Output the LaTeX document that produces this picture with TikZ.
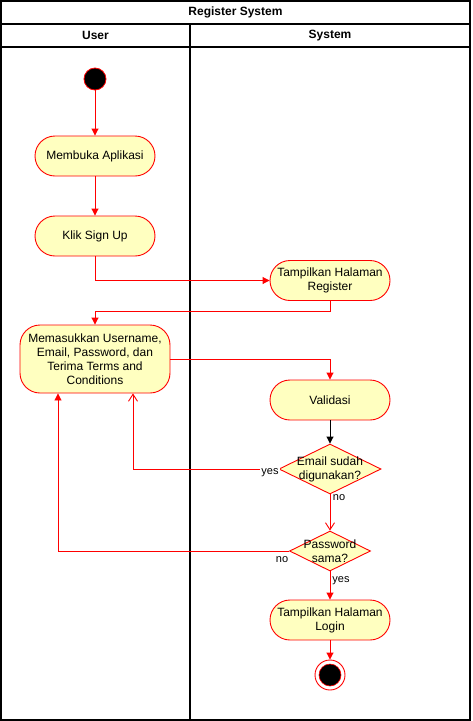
\documentclass[tikz,border=0pt]{standalone}
\usepackage{fontspec}
\setmainfont{Liberation Sans}
\usetikzlibrary{arrows.meta,shapes.geometric}
\definecolor{nodefill}{HTML}{FFFFC0}
\tikzset{
  actbox/.style={draw=red, fill=nodefill, rounded corners=20pt, minimum width=120pt, minimum height=40pt, align=center, line width=0.9pt, inner sep=1pt},
  decis/.style={draw=red, fill=nodefill, diamond, inner sep=0pt, line width=0.9pt},
  flow/.style={draw=red, line width=0.9pt, -{Triangle[length=7pt,width=7pt]}},
  flowblack/.style={draw=black, line width=0.9pt, -{Triangle[length=7pt,width=7pt]}},
  openflow/.style={draw=red, line width=0.9pt, -{Straight Barb[length=7pt,width=9pt]}},
  edgelbl/.style={font=\fontsize{11}{13}\selectfont, inner sep=1pt, fill=white},
  lane/.style={draw=black, line width=1.2pt}
}
\begin{document}
\begin{tikzpicture}[x=1pt,y=-1pt, font=\fontsize{12}{14}\selectfont]
\useasboundingbox (0,0) rectangle (472,721);
% swimlanes
\draw[lane] (1,1) rectangle (470,720);
\draw[lane] (1,24) -- (470,24);
\draw[lane] (1,47) -- (470,47);
\draw[lane] (190,24) -- (190,720);
\node[font=\bfseries\fontsize{12}{14}\selectfont] (title) at (235.5,12.5) {Register System};
\node[font=\bfseries\fontsize{12}{14}\selectfont] (lanea) at (95.5,35.5) {User};
\node[font=\bfseries\fontsize{12}{14}\selectfont] (laneb) at (330,35.5) {System};
% nodes
\node[circle, fill=black, draw=red, line width=0.8pt, minimum size=22pt, inner sep=0pt] (start) at (95,79) {};
\node[actbox] (membuka) at (95,156) {Membuka Aplikasi};
\node[actbox] (klik) at (95,236) {Klik Sign Up};
\node[actbox] (register) at (330,280.5) {Tampilkan Halaman\\Register};
\node[actbox, minimum width=150pt, minimum height=68pt] (input) at (95,359) {Memasukkan Username,\\Email, Password, dan\\Terima Terms and\\Conditions};
\node[actbox] (validasi) at (330,400) {Validasi};
\node[decis, minimum width=102pt, minimum height=50pt, label={[align=center, inner sep=0pt]center:Email sudah\\digunakan?}] (email) at (330,469) {};
\node[decis, minimum width=81pt, minimum height=40pt, label={[align=center, inner sep=0pt]center:Password\\sama?}] (pass) at (330,551) {};
\node[actbox] (login) at (330,620) {Tampilkan Halaman\\Login};
\node[circle, fill=white, draw=red, line width=0.9pt, minimum size=30pt, inner sep=0pt] (end) at (330,675) {};
\node[circle, fill=black, draw=red, line width=0.6pt, minimum size=22pt, inner sep=0pt] (endin) at (end.center) {};
% connectors
\draw[flow] (start) -- (membuka);
\draw[flow] (membuka) -- (klik);
\draw[flow] (klik.south) |- (register.west);
\draw[flow] (register.south) -- ++(0,10) -| (input.north);
\draw[flow] (input.east) -| (validasi.north);
\draw[flowblack] (validasi) -- (email);
\draw[openflow] (email.west) -| ([xshift=38pt]input.south);
\draw[openflow] (email.south) -- (pass.north);
\draw[flow] (pass.west) -| ([xshift=-37pt]input.south);
\draw[flow] (pass.south) -- (login.north);
\draw[flow] (login) -- (end);
% edge labels
\node[edgelbl] (lyes1) at (270,473) {yes};
\node[edgelbl] (lno1) at (339,498) {no};
\node[edgelbl] (lno2) at (282,560) {no};
\node[edgelbl] (lyes2) at (341,581) {yes};
\end{tikzpicture}
\end{document}
